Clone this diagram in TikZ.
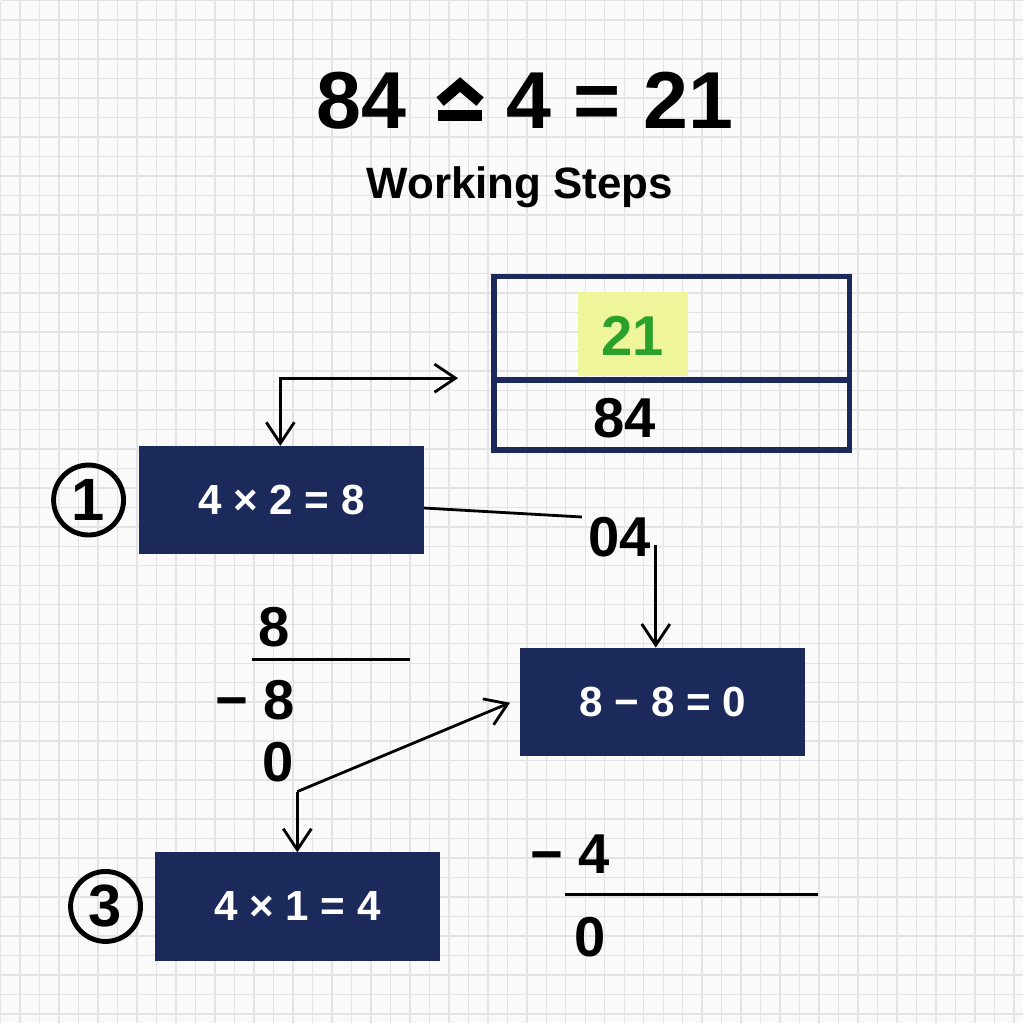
\documentclass[tikz,border=0pt]{standalone}
\usepackage{fontspec}
\setmainfont{Liberation Sans}
\usetikzlibrary{arrows.meta,positioning}
\definecolor{navy}{HTML}{1B2A5A}
\definecolor{okgreen}{HTML}{2BA02B}
\definecolor{hilite}{HTML}{EEF59A}

\begin{document}
\begin{tikzpicture}[
    x=0.01cm, y=-0.01cm,
    font=\bfseries,
    >={Straight Barb[length=6pt,width=8pt]},
    % styles
    stepbox/.style={draw=navy, fill=navy, text=white, minimum width=2.84cm, minimum height=1.07cm, font=\bfseries\fontsize{12}{14}\selectfont},
    num/.style={font=\bfseries\fontsize{16}{19}\selectfont},
    badge/.style={draw, circle, line width=1.4pt, minimum size=0.7cm, inner sep=0pt, font=\bfseries\fontsize{17}{19}\selectfont},
    line/.style={draw, ->, thick},
    bar/.style={draw, thick}
]
    % --- background grid ---
    \fill[white!96!gray] (0,0) rectangle (1024,1024);
    \draw[gray!22, thin, step=0.195cm] (0,0) grid (1024,1024);
    \useasboundingbox (0,0) rectangle (1024,1024);

    % --- titles ---
    \node[font=\bfseries\fontsize{23}{27}\selectfont] (title) at (525,100) {84 \hspace{0.55cm} 4 = 21};
    % operator sign (caret over bar)
    \draw[line width=3.2pt] (440,101) -- (460,84) -- (480,101);
    \draw[line width=3.2pt] (438,115) -- (482,115);
    \node[font=\bfseries\fontsize{12.5}{15}\selectfont] (sub) at (520,187) {Working Steps};

    % --- result table ---
    \fill[hilite] (578,292) rectangle (688,376);
    \draw[navy, line width=1.6pt] (494,276) rectangle (850,450);
    \draw[navy, line width=1.6pt] (494,380) -- (850,380);
    \node[num, text=okgreen] (quot) at (633,336) {21};
    \node[num] (divd) at (625,418) {84};

    % --- step boxes ---
    \node[stepbox] (s1) at (281,500) {4 × 2 = 8};
    \node[stepbox] (s2) at (663,702) {8 − 8 = 0};
    \node[stepbox] (s3) at (297,907) {4 × 1 = 4};
    \node[badge] (b1) at (88,500) {1};
    \node[badge] (b3) at (105,907) {3};

    % --- working numbers ---
    \node[num] (rem) at (620,537) {04};
    \node[num] (a8) at (274,627) {8};
    \node[num] (m8) at (255,700) {− 8};
    \node[num] (z1) at (278,762) {0};
    \node[num] (m4) at (570,855) {− 4};
    \node[num] (z2) at (590,938) {0};
    \draw[bar] (252,660) -- (410,660);
    \draw[bar] (565,895) -- (818,895);

    % --- connectors ---
    \coordinate (t1) at (458,378);
    \coordinate (k1) at (280,378);
    \draw[line, <->] (t1) -- (k1) -- (s1.north -| k1);
    \draw[thick] (s1.east |- 0,508) -- (582,517);
    \draw[line] (656,545) -- (s2.north -| 656,0);
    \coordinate (k2) at (297,792);
    \draw[line] (k2) -- (510,703);
    \draw[line] (k2) -- (s3.north -| k2);
\end{tikzpicture}
\end{document}
